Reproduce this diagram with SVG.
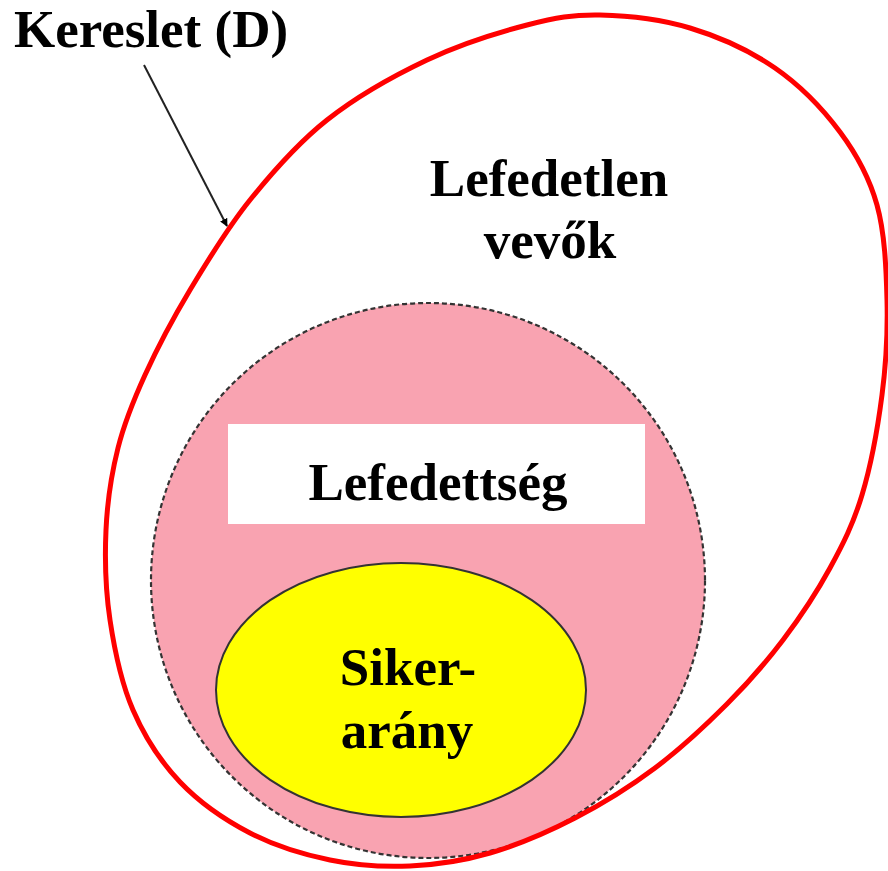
<svg xmlns="http://www.w3.org/2000/svg" width="888" height="871" viewBox="0 0 888 871">
  <style>
    .lbl { font-family: "Liberation Serif", "Times New Roman", serif; font-weight: bold; font-size: 53px; fill: #000; text-anchor: middle; }
  </style>
  <defs>
    <marker id="arrow" viewBox="0 0 10 10" refX="9" refY="5" markerWidth="4" markerHeight="4" orient="auto" markerUnits="strokeWidth">
      <path d="M0,0 L10,5 L0,10 z" fill="#000"/>
    </marker>
  </defs>
  <rect width="888" height="871" fill="#fff"/>

  <g id="lefedettseg">
    <ellipse cx="428" cy="580.5" rx="277" ry="277.5" fill="#F9A3B1" stroke="#333" stroke-width="2.2" stroke-dasharray="5 3"/>
    <rect x="228" y="424" width="417" height="100" fill="#fff"/>
    <text class="lbl" x="438" y="500">Lefedettség</text>
  </g>

  <g id="sikerarany">
    <ellipse cx="401" cy="690" rx="185" ry="127" fill="#FFFF00" stroke="#333" stroke-width="2"/>
    <text class="lbl" x="408" y="685">Siker-</text>
    <text class="lbl" x="407" y="748">arány</text>
  </g>

  <g id="kereslet">
    <!-- egg-shaped demand boundary -->
    <path fill="none" stroke="#FF0000" stroke-width="5" d="M600,15
      C627.2,15.5 660.8,19.2 690,28
      C719.2,36.8 750,50.7 775,68
      C800,85.3 823,109.2 840,132
      C857,154.8 869.2,177 877,205
      C884.8,233 886.2,268.3 887,300
      C887.8,331.7 886.2,362.5 882,395
      C877.8,427.5 870.7,466.2 862,495
      C853.3,523.8 843.2,543.8 830,568
      C816.8,592.2 800.2,617.3 783,640
      C765.8,662.7 748.3,682.7 727,704
      C705.7,725.3 680.3,749 655,768
      C629.7,787 602.5,803.8 575,818
      C547.5,832.2 517.5,845 490,853
      C462.5,861 436.7,864.8 410,866
      C383.3,867.2 356.7,865.5 330,860
      C303.3,854.5 275,846 250,833
      C225,820 199.5,802.5 180,782
      C160.5,761.5 144.7,737 133,710
      C121.3,683 114.5,650 110,620
      C105.5,590 104.7,558.7 106,530
      C107.3,501.3 111.5,473.8 118,448
      C124.5,422.2 133,401.3 145,375
      C157,348.7 172.5,319.2 190,290
      C207.5,260.8 227.2,228.3 250,200
      C272.8,171.7 297.5,143.3 327,120
      C356.5,96.7 393.7,75.8 427,60
      C460.3,44.2 498.2,32.5 527,25
      C555.8,17.5 572.8,14.5 600,15 Z"/>
    <text class="lbl" x="151" y="47">Kereslet (D)</text>
  </g>

  <g id="lefedetlen">
    <text class="lbl" x="549" y="196">Lefedetlen</text>
    <text class="lbl" x="550" y="258">vevők</text>
  </g>

  <g id="connectors">
    <line x1="144" y1="65" x2="227" y2="226" stroke="#222" stroke-width="2" marker-end="url(#arrow)"/>
  </g>
</svg>
